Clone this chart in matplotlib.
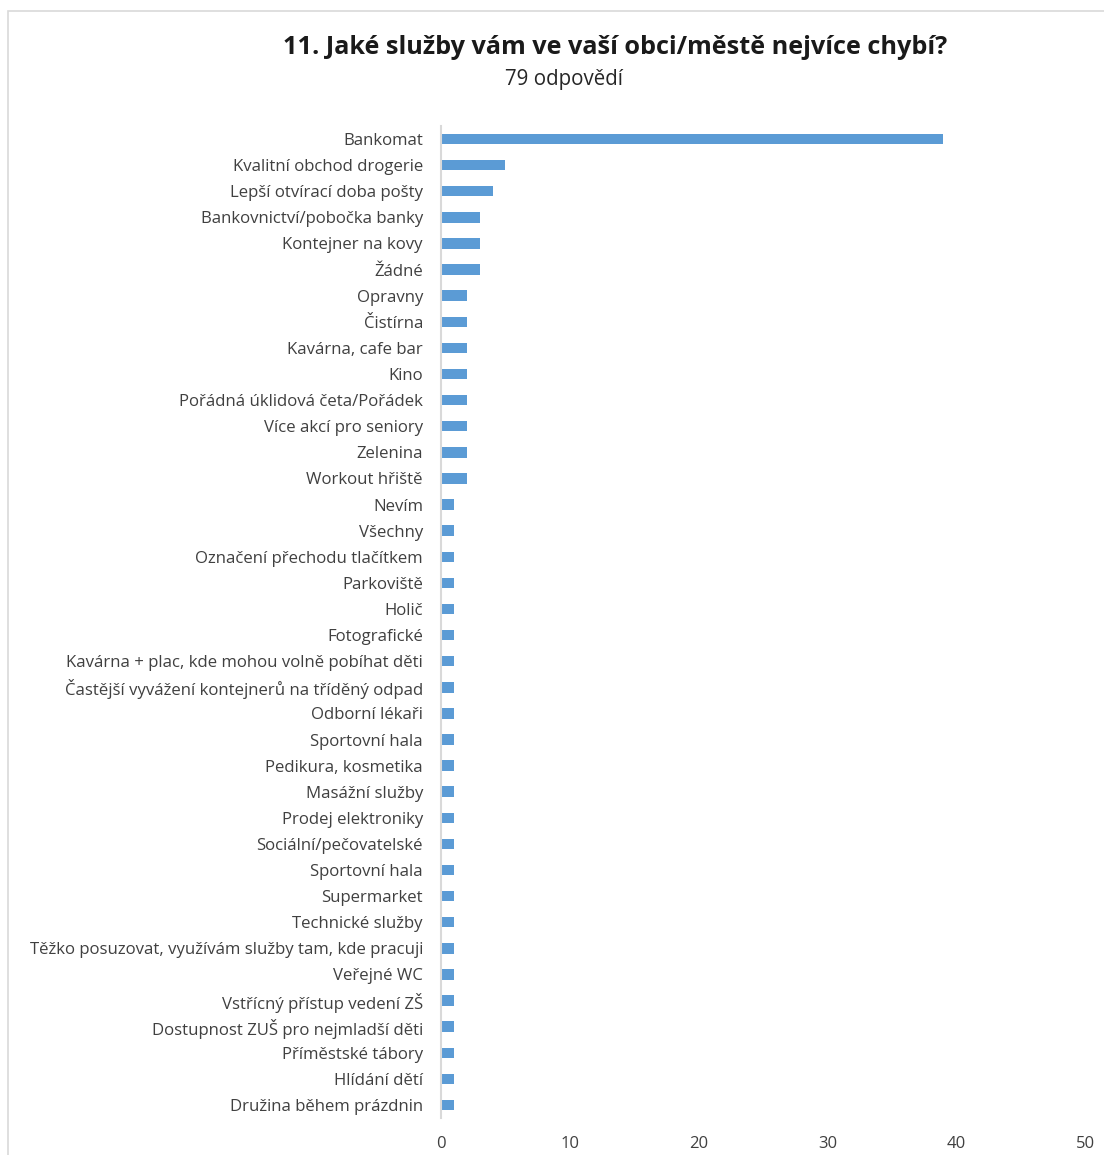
import numpy as np
import matplotlib.pyplot as plt
from matplotlib.patches import Rectangle

# Categories (top to bottom) and counts
categories = [
    'Bankomat', 'Kvalitní obchod drogerie', 'Lepší otvírací doba pošty',
    'Bankovnictví/pobočka banky', 'Kontejner na kovy', 'Žádné',
    'Opravny', 'Čistírna', 'Kavárna, cafe bar', 'Kino',
    'Pořádná úklidová četa/Pořádek', 'Více akcí pro seniory', 'Zelenina',
    'Workout hřiště', 'Nevím', 'Všechny', 'Označení přechodu tlačítkem',
    'Parkoviště', 'Holič', 'Fotografické',
    'Kavárna + plac, kde mohou volně pobíhat děti',
    'Častější vyvážení kontejnerů na tříděný odpad', 'Odborní lékaři',
    'Sportovní hala', 'Pedikura, kosmetika', 'Masážní služby',
    'Prodej elektroniky', 'Sociální/pečovatelské', 'Sportovní hala',
    'Supermarket', 'Technické služby',
    'Těžko posuzovat, využívám služby tam, kde pracuji', 'Veřejné WC',
    'Vstřícný přístup vedení ZŠ', 'Dostupnost ZUŠ pro nejmladší děti',
    'Příměstské tábory', 'Hlídání dětí', 'Družina během prázdnin',
]
counts = [39, 5, 4, 3, 3, 3, 2, 2, 2, 2, 2, 2, 2, 2,
          1, 1, 1, 1, 1, 1, 1, 1, 1, 1, 1, 1, 1, 1, 1, 1, 1, 1, 1, 1, 1, 1, 1, 1]
x_ticks = [0, 10, 20, 30, 40, 50]

plt.rcParams['font.family'] = ['Open Sans', 'DejaVu Sans']

fig = plt.figure(figsize=(11.04, 11.55), dpi=100)
ax = fig.add_axes([0.3995, 0.032, 0.5833, 0.8589])

y = np.arange(len(categories))
ax.barh(y, counts, height=0.4, color='#5b9bd5')
ax.set_ylim(len(categories) - 0.5, -0.5)
ax.set_xlim(0, 50)
ax.set_yticks(y)
ax.set_yticklabels(categories, fontsize=12.1, color='#404040')
ax.set_xticks(x_ticks)
ax.set_xticklabels([str(t) for t in x_ticks], fontsize=12, color='#404040')
ax.tick_params(axis='both', length=0)
ax.tick_params(axis='y', pad=13)
ax.tick_params(axis='x', pad=13)

for side in ['top', 'right', 'bottom']:
    ax.spines[side].set_visible(False)
ax.spines['left'].set_color('#d9d9d9')
ax.spines['left'].set_linewidth(1.5)

# chart frame
fig.patches.append(Rectangle((8 / 1104, -0.1), 1.2, 1 - 11 / 1155 + 0.1,
                             transform=fig.transFigure, fill=False,
                             edgecolor='#d9d9d9', linewidth=1.2))

fig.text(615 / 1104, 1 - 47 / 1155, '11. Jaké služby vám ve vaší obci/městě nejvíce chybí?',
         ha='center', va='center', fontsize=18.2, fontweight='bold', color='#1a1a1a')
fig.text(564 / 1104, 1 - 80 / 1155, '79 odpovědí', ha='center', va='center',
         fontsize=14.8, color='#262626')

fig.savefig('out.png', dpi=100)
